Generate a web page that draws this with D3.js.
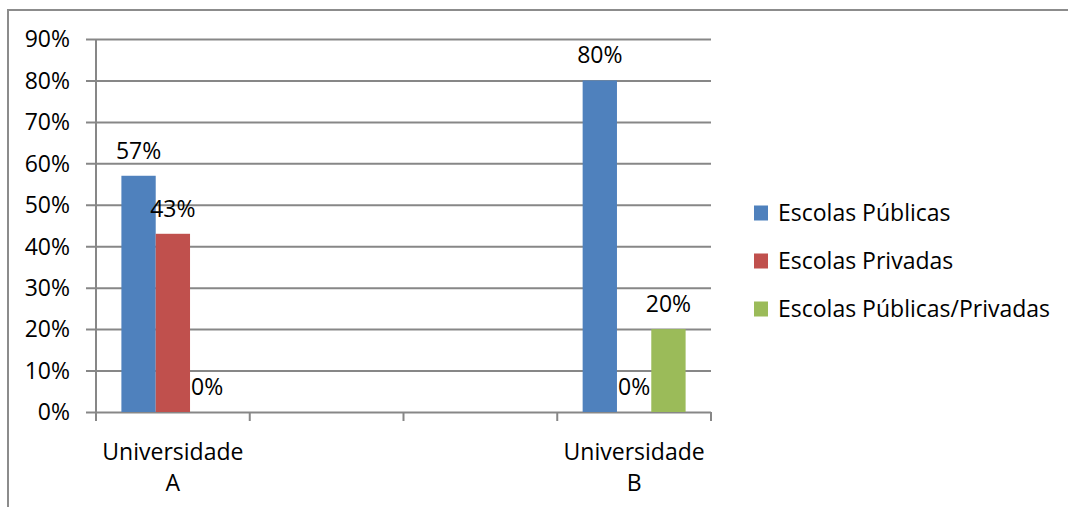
<!DOCTYPE html>
<html>
<head>
<meta charset="utf-8">
<script src="https://cdn.jsdelivr.net/npm/d3@7"></script>
<style>
  html, body { margin: 0; padding: 0; background: #fff; }
  svg { display: block; }
  text { font-family: "Open Sans", sans-serif; fill: #000; }
</style>
</head>
<body>
<svg id="chart" width="1068" height="507"></svg>
<script>
// ---- data ----
const categories = ["Universidade A", "", "", "Universidade B"];
const categoryLines = [["Universidade", "A"], [], [], ["Universidade", "B"]];
const seriesNames = ["Escolas Públicas", "Escolas Privadas", "Escolas Públicas/Privadas"];
const seriesColors = ["#4F81BD", "#C0504D", "#9BBB59"];
const escolasPublicas = [0.57, null, null, 0.80];
const escolasPrivadas = [0.43, null, null, 0.00];
const escolasPublicasPrivadas = [0.00, null, null, 0.20];
const yTicks = [0, 0.1, 0.2, 0.3, 0.4, 0.5, 0.6, 0.7, 0.8, 0.9];

const seriesValues = [escolasPublicas, escolasPrivadas, escolasPublicasPrivadas];

const svg = d3.select("#chart");
const gridColor = "#878787";
const fs = 23;

// outer chart border (extends past the right and bottom edge)
svg.append("rect")
  .attr("x", 8).attr("y", 10)
  .attr("width", 1200).attr("height", 600)
  .attr("fill", "none").attr("stroke", "#8c8c8c").attr("stroke-width", 2);

const plot = { left: 96, right: 711, top: 39, bottom: 412 };

const y = d3.scaleLinear().domain([0, 0.9]).range([plot.bottom, plot.top]);
const x = d3.scaleBand().domain(d3.range(categories.length)).range([plot.left, plot.right]).paddingInner(0).paddingOuter(0);
const xs = d3.scaleBand().domain(d3.range(seriesNames.length)).range([0, x.bandwidth()]).paddingInner(0).paddingOuter(0.74);

// gridlines
const yAxis = d3.axisLeft(y).tickValues(yTicks).tickSize(-(plot.right - plot.left)).tickSizeOuter(0)
  .tickFormat(d3.format(".0%")).tickPadding(16);
const gy = svg.append("g").attr("transform", `translate(${plot.left},0)`).call(yAxis);
gy.select(".domain").remove();
gy.selectAll(".tick line").attr("stroke", gridColor).attr("stroke-width", 2).attr("x1", -10);
gy.selectAll(".tick text").attr("font-size", fs).attr("font-family", "Open Sans, sans-serif").attr("fill", "#000").attr("x", -26).attr("dy", "0.34em");

// y axis line
svg.append("line").attr("x1", plot.left).attr("x2", plot.left).attr("y1", plot.top).attr("y2", plot.bottom + 1)
  .attr("stroke", gridColor).attr("stroke-width", 2);

// x axis ticks at category boundaries
const boundaries = d3.range(categories.length + 1).map(i => i < categories.length ? x(i) : x(i - 1) + x.bandwidth());
svg.append("g").selectAll("line").data(boundaries).join("line")
  .attr("x1", d => d).attr("x2", d => d).attr("y1", plot.bottom).attr("y2", plot.bottom + 9)
  .attr("stroke", gridColor).attr("stroke-width", 2);

// bars
const bars = [];
seriesValues.forEach((vals, s) => vals.forEach((v, c) => { if (v !== null) bars.push({ s, c, v }); }));
svg.append("g").selectAll("rect").data(bars).join("rect")
  .attr("x", d => x(d.c) + xs(d.s))
  .attr("width", xs.bandwidth())
  .attr("y", d => y(d.v))
  .attr("height", d => y(0) - y(d.v))
  .attr("fill", d => seriesColors[d.s]);

// data labels
svg.append("g").selectAll("text").data(bars).join("text")
  .attr("x", d => x(d.c) + xs(d.s) + xs.bandwidth() / 2)
  .attr("y", d => y(d.v) - 17)
  .attr("text-anchor", "middle")
  .attr("font-size", fs)
  .text(d => d3.format(".0%")(d.v));

// x labels
categoryLines.forEach((lines, c) => {
  lines.forEach((t, i) => {
    svg.append("text")
      .attr("x", x(c) + x.bandwidth() / 2)
      .attr("y", 460 + i * 31)
      .attr("text-anchor", "middle")
      .attr("font-size", fs)
      .text(t);
  });
});

// legend
const legend = svg.append("g");
seriesNames.forEach((name, i) => {
  const cy = 213 + i * 48;
  legend.append("rect").attr("x", 754).attr("y", cy - 7.5).attr("width", 14).attr("height", 15).attr("fill", seriesColors[i]);
  legend.append("text").attr("x", 778).attr("y", cy).attr("dy", "0.36em").attr("font-size", fs).text(name);
});
</script>
</body>
</html>
